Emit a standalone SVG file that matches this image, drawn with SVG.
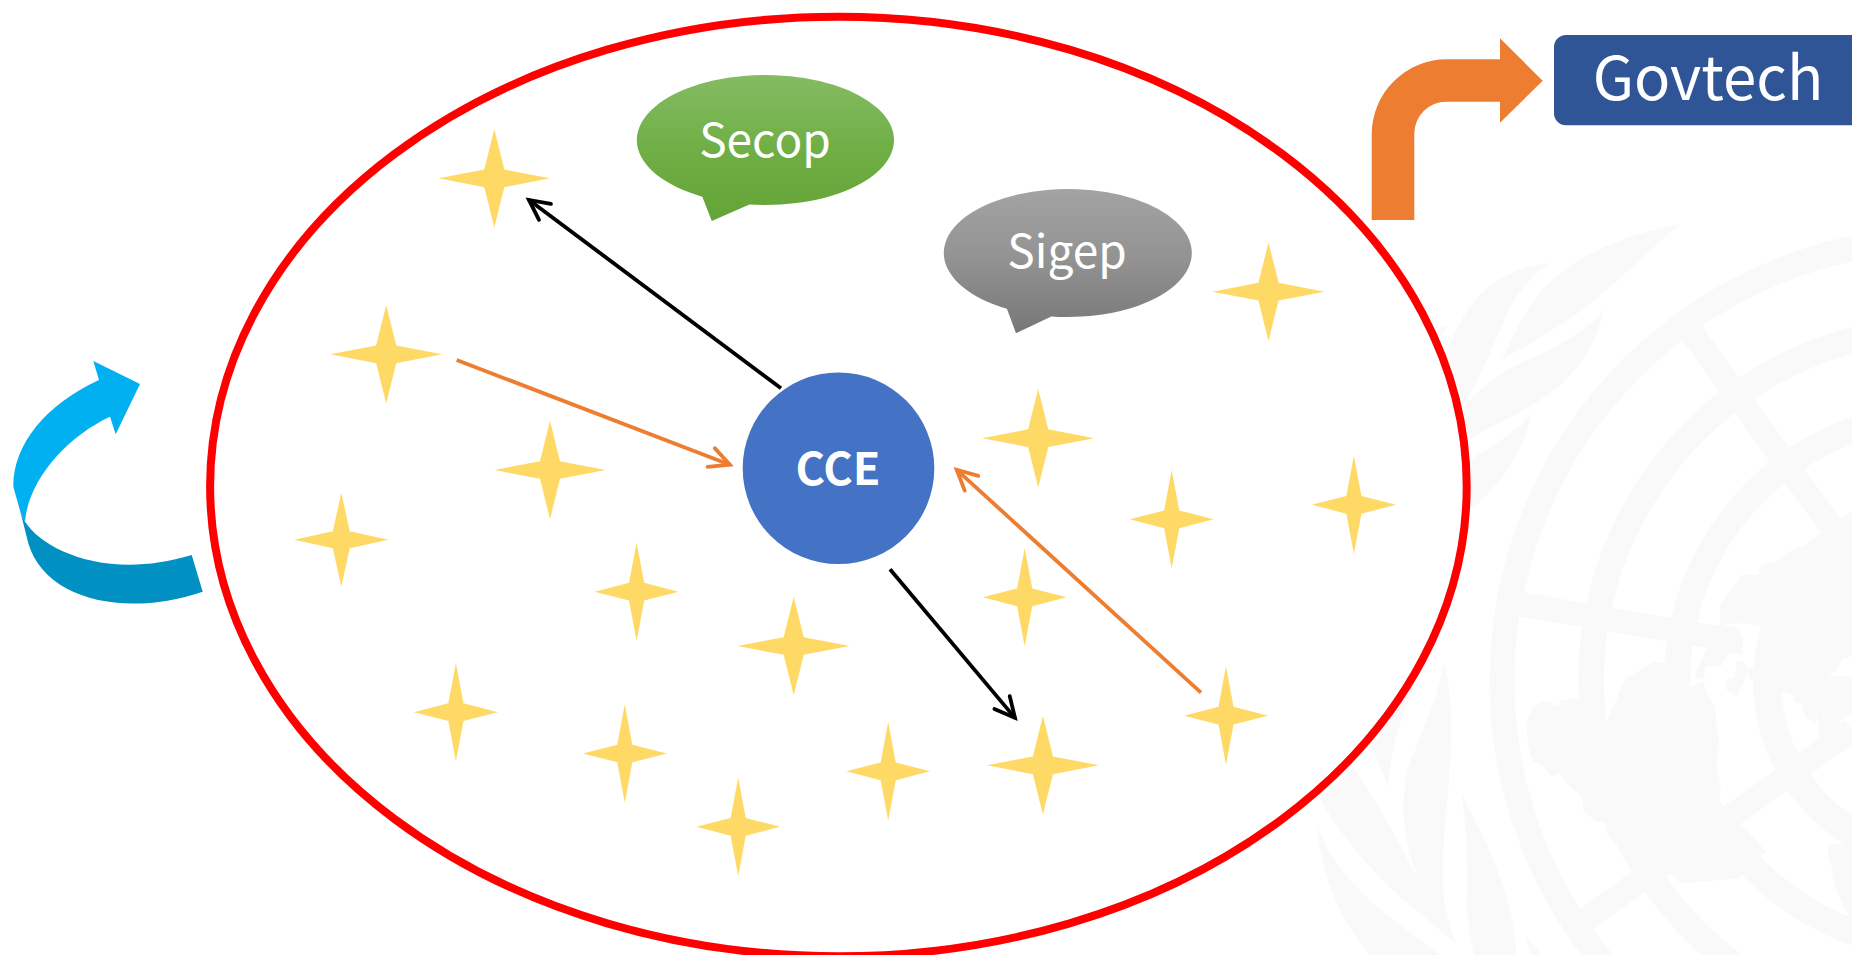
<svg xmlns="http://www.w3.org/2000/svg" xmlns:xlink="http://www.w3.org/1999/xlink" width="1852" height="955" viewBox="0 0 1852 955">
<style>
text{font-family:"Noto Sans CJK SC","Noto Sans",sans-serif;fill:#fff;text-anchor:middle}
.em{fill:#f9f9f9}
.ring{fill:none;stroke:#f9f9f9}
.sp{fill:none;stroke:#f9f9f9;stroke-width:24}
.bk{stroke:#000;stroke-width:3.8;fill:none;marker-end:url(#hb)}
.or{stroke:#ED7D31;stroke-width:3.8;fill:none;marker-end:url(#ho)}
.star{fill:#FFD966}
</style>
<defs>
<path id="s4" d="M0,-1L.18,-.18L1,0L.18,.18L0,1L-.18,.18L-1,0L-.18,-.18Z"/>
<marker id="hb" markerUnits="userSpaceOnUse" markerWidth="40" markerHeight="40" viewBox="-30 -20 40 40" refX="0" refY="0" orient="auto"><path d="M-20.7,-10L-.7,0L-20.7,10" fill="none" stroke="#000" stroke-width="3.8" stroke-linecap="round"/></marker>
<marker id="ho" markerUnits="userSpaceOnUse" markerWidth="40" markerHeight="40" viewBox="-30 -20 40 40" refX="0" refY="0" orient="auto"><path d="M-20.7,-10L-.7,0L-20.7,10" fill="none" stroke="#ED7D31" stroke-width="3.8" stroke-linecap="round"/></marker>
<linearGradient id="gg" x1="0" y1="0" x2="0" y2="1"><stop offset="0" stop-color="#85BB63"/><stop offset=".5" stop-color="#70AF45"/><stop offset="1" stop-color="#64A336"/></linearGradient>
<linearGradient id="gy" x1="0" y1="0" x2="0" y2="1"><stop offset="0" stop-color="#A3A3A3"/><stop offset=".5" stop-color="#929292"/><stop offset="1" stop-color="#777"/></linearGradient>
</defs>
<rect width="1852" height="955" fill="#fff"/>
<g id="emblem">
<circle class="ring" cx="1944" cy="681" r="442" stroke-width="25"/>
<circle class="ring" cx="1944" cy="681" r="353" stroke-width="26"/>
<circle class="ring" cx="1944" cy="681" r="267" stroke-width="26"/>
<circle class="ring" cx="1944" cy="681" r="177" stroke-width="28"/>
<path class="sp" d="M1680,316L1835,532"/>
<path class="sp" d="M1508,602L1717,638"/>
<path class="sp" d="M1575,927L1852,730"/>
<g class="em" transform="translate(1400 210) scale(.3333)">
<path d="M305,450C340,380 390,260 470,200C560,120 700,70 840,42C760,110 660,210 560,290C480,350 390,400 305,450Z"/>
<path d="M455,158C340,170 260,220 210,290C170,350 140,420 130,450L195,580C240,500 270,430 300,360C330,280 380,200 455,158Z"/>
<path d="M145,345C125,350 105,365 100,375L120,380Z"/>
<path d="M612,298C560,370 450,420 340,470C280,500 230,550 190,590L205,690C280,640 350,620 420,570C520,510 590,410 612,298Z"/>
<path d="M395,607C350,670 270,710 210,750L215,900C290,830 370,740 395,607Z"/>
</g>
<g class="em" transform="translate(1300 640) scale(.3333)">
<path d="M340,130L215,320L265,440C270,340 300,220 360,110Z"/>
<path d="M430,65C420,150 380,240 350,320C310,400 300,500 320,600C330,650 345,690 350,712C300,610 220,470 160,380L60,475C110,570 200,680 300,770C360,820 420,870 467,912C450,850 430,800 430,740C425,600 445,500 452,330C458,220 450,130 430,65Z"/>
<path d="M50,540C60,700 120,840 210,945L420,945C340,880 240,820 170,740C110,680 70,620 50,540Z"/>
<path d="M483,458C500,550 505,700 500,800C505,860 515,920 525,950L650,950C640,800 600,680 483,458Z"/>
<path d="M675,888L730,950L695,950Z"/>
</g>
<g class="em" transform="translate(1500 500) scale(.3333)">
<path d="M80,690C82,650 95,620 125,603L150,607L165,620L185,600L232,595L242,622L320,660L350,600C365,545 385,525 410,517C430,505 445,488 470,485L495,490L570,560L610,545L620,580L645,620L650,680L657,720L650,800L662,860L660,900L630,940L725,975L800,1056L725,1100L720,1136L614,1143L551,1150L498,1114L408,1107L370,1056L320,1000L315,965L290,968L250,930L245,890L210,860L180,820L155,830L120,790L100,785L85,740Z"/>
<path d="M612,540L615,500L665,497L683,458L725,463L730,420L716,385L660,375L620,450L590,510L585,535Z"/>
<path d="M660,375L660,320C675,285 705,255 725,225L775,225L785,195L830,185C860,155 880,145 910,140C935,120 950,105 970,100L1030,50L1056,35L1056,470L1030,475L1010,510L985,528L1056,530L1056,640L1030,655L1000,690L960,715L950,645L945,675L915,650L905,610L885,605L880,585L835,570L750,540L745,505L775,495L785,440L780,375L720,370Z"/>
<path d="M710,480L735,490L745,510L735,535L710,590L680,570L675,545L705,530Z"/>
<path d="M1000,1032C964,1053 996,1080 996,1110C1005,1170 1035,1230 1056,1266L1056,1032Z"/>
</g>
</g>
<g id="boundary"><ellipse cx="838.4" cy="486.5" rx="628.3" ry="469.8" fill="#fff" stroke="#f00" stroke-width="8"/></g>
<g id="stars">
<g id="star-1"><use href="#s4" class="star" transform="translate(494.3 178.3) scale(55.7 49.3)"/></g>
<g id="star-2"><use href="#s4" class="star" transform="translate(386.2 354.3) scale(56 49.3)"/></g>
<g id="star-3"><use href="#s4" class="star" transform="translate(550 470) scale(55.7 49.3)"/></g>
<g id="star-4"><use href="#s4" class="star" transform="translate(341.3 539.8) scale(47 47)"/></g>
<g id="star-5"><use href="#s4" class="star" transform="translate(636.6 591.7) scale(42 49.3)"/></g>
<g id="star-6"><use href="#s4" class="star" transform="translate(793.7 646) scale(56 49.3)"/></g>
<g id="star-7"><use href="#s4" class="star" transform="translate(455.9 712.2) scale(42 49.3)"/></g>
<g id="star-8"><use href="#s4" class="star" transform="translate(624.8 753.5) scale(42 49.3)"/></g>
<g id="star-9"><use href="#s4" class="star" transform="translate(738.2 826.8) scale(42 49.3)"/></g>
<g id="star-10"><use href="#s4" class="star" transform="translate(888.2 771.3) scale(42 49.3)"/></g>
<g id="star-11"><use href="#s4" class="star" transform="translate(1042.9 765.3) scale(56 49.3)"/></g>
<g id="star-12"><use href="#s4" class="star" transform="translate(1226 715.7) scale(42 49.3)"/></g>
<g id="star-13"><use href="#s4" class="star" transform="translate(1024.7 597.3) scale(42 49.3)"/></g>
<g id="star-14"><use href="#s4" class="star" transform="translate(1038.2 438.2) scale(56 49.3)"/></g>
<g id="star-15"><use href="#s4" class="star" transform="translate(1171.7 519.3) scale(42 49.3)"/></g>
<g id="star-16"><use href="#s4" class="star" transform="translate(1353.9 504.8) scale(42 49.3)"/></g>
<g id="star-17"><use href="#s4" class="star" transform="translate(1268.5 291.7) scale(56 49.3)"/></g>
</g>
<g id="secop">
<path fill="url(#gg)" d="M702.3,196.64A128.6,65 0 1 1 749.4,204.5L711.8,221Z"/>
<text x="765" y="157" font-size="46">Secop</text>
</g>
<g id="sigep">
<path fill="url(#gy)" d="M1006.9,308.75A124,64 0 1 1 1051.3,316.43L1016,333.3Z"/>
<text x="1067" y="268" font-size="46">Sigep</text>
</g>
<g id="cce">
<circle cx="838.5" cy="468.3" r="95.8" fill="#4472C4"/>
<text x="838" y="485" font-size="45" font-weight="700">CCE</text>
</g>
<g id="govtech">
<path fill="#2F5597" d="M1852,35H1566A12,12 0 0 0 1554,47V113.3A12,12 0 0 0 1566,125.3H1852Z"/>
<text x="1708" y="100" font-size="60">Govtech</text>
</g>
<g id="connectors">
<path class="bk" d="M781,388.3L528.4,199.5"/>
<path class="or" d="M456.7,360L730.5,464.9"/>
<path class="bk" d="M890,569.3L1015.4,718.4"/>
<path class="or" d="M1201,692.7L956.2,469.3"/>
<path id="bent-arrow" fill="#ED7D31" d="M1371.7,220V134A75,75 0 0 1 1446.7,59.3H1500V38.3L1542.7,80.7L1500,122.7V101.7H1446.7A32,32 0 0 0 1414.3,134V220Z"/>
<g id="cycle-arrow">
<path fill="#00B0F0" d="M93.3,361L140,384L115.7,434.3L110,416.7C66.7,436.7 28.3,480 25,521.7L20.7,513L13.3,486.7C13,445 45,405 99,380Z"/>
<path fill="#0090C2" d="M20.7,513L25,521.7C45,552 110,580 191.7,555L202.7,591.7C125,618 45,600 28.3,543.3Z"/>
</g>
</g>
</svg>
